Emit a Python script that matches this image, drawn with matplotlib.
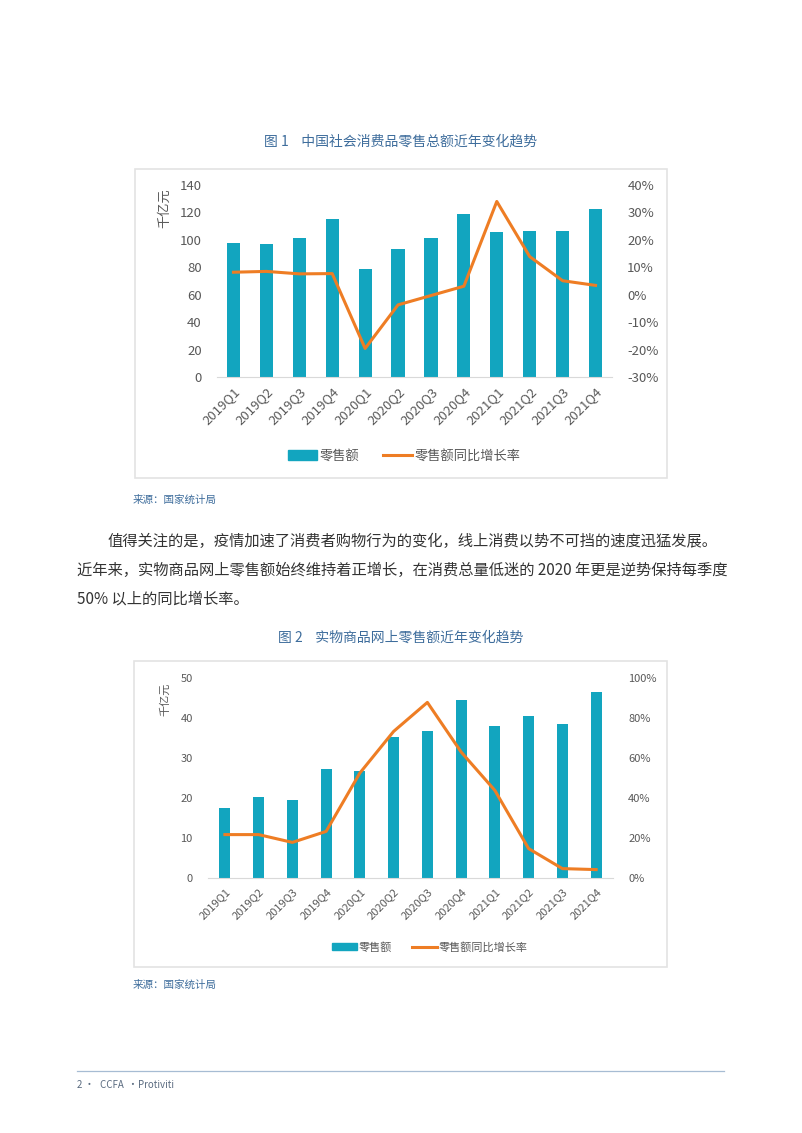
import matplotlib
matplotlib.use("Agg")
import matplotlib.pyplot as plt
from matplotlib.patches import Rectangle
from matplotlib.lines import Line2D
from matplotlib.ticker import FuncFormatter

plt.rcParams['font.family'] = ['Noto Sans CJK SC', 'DejaVu Sans']

# data
quarters = ['2019Q1', '2019Q2', '2019Q3', '2019Q4', '2020Q1', '2020Q2',
            '2020Q3', '2020Q4', '2021Q1', '2021Q2', '2021Q3', '2021Q4']

retail_total = [97.8, 97.3, 101.5, 115.0, 78.6, 93.4,
                101.0, 118.7, 105.6, 106.8, 106.3, 122.8]
retail_total_yoy = [8.2, 8.5, 7.6, 7.7, -19.6, -3.7,
                    -0.3, 3.1, 34.0, 13.9, 5.1, 3.4]

online_retail = [17.6, 20.2, 19.4, 27.3, 26.8, 35.3,
                 36.8, 44.4, 37.9, 40.6, 38.5, 46.5]
online_retail_yoy = [21.7, 21.7, 17.8, 23.3, 52.5, 73.3,
                     87.8, 63.0, 43.8, 14.7, 4.7, 4.2]

title1 = '图 1    中国社会消费品零售总额近年变化趋势'
title2 = '图 2    实物商品网上零售额近年变化趋势'
bar_label = '零售额'
line_label = '零售额同比增长率'
unit_label = '千亿元'
source = '来源：国家统计局'
paragraph = [
    '值得关注的是，疫情加速了消费者购物行为的变化，线上消费以势不可挡的速度迅猛发展。',
    '近年来，实物商品网上零售额始终维持着正增长，在消费总量低迷的 2020 年更是逆势保持每季度',
    '50% 以上的同比增长率。',
]

BAR = '#12a5bf'
LINE = '#ee7d24'
TICK = '#595959'
TITLE = '#3e6d9c'

W, H = 802, 1133
fig = plt.figure(figsize=(W / 100, H / 100), dpi=100)


def fx(x):
    return x / W


def fy(y):
    return 1 - y / H


def box(x0, y0, x1, y1):
    fig.patches.append(Rectangle((fx(x0), fy(y1)), fx(x1) - fx(x0), fy(y0) - fy(y1),
                                 transform=fig.transFigure, fill=False,
                                 edgecolor='#e3e3e3', linewidth=1.2))


def make_chart(left, right, top, bottom, bars, yoy, ymax, ystep, rmin, rmax, rstep,
               bar_w, fs, lw, unit_y, legend_y, legend_x):
    ax = fig.add_axes([fx(left), fy(bottom), fx(right) - fx(left), fy(top) - fy(bottom)])
    x = range(len(quarters))
    ax.bar(x, bars, width=bar_w, color=BAR, zorder=2)
    ax.set_xlim(-0.5, len(quarters) - 0.5)
    ax.set_ylim(0, ymax)
    ax.set_yticks(range(0, ymax + 1, ystep))
    ax.set_xticks(list(x))
    ax.set_xticklabels(quarters, rotation=45, ha='right', va='top', rotation_mode='anchor')
    for s in ['top', 'left', 'right']:
        ax.spines[s].set_visible(False)
    ax.spines['bottom'].set_color('#d9d9d9')
    ax.tick_params(length=0, labelsize=fs, colors=TICK)
    ax.tick_params(axis='y', pad=11)
    ax.tick_params(axis='x', pad=6)
    ax.patch.set_alpha(0)

    ax2 = ax.twinx()
    ax2.plot(x, yoy, color=LINE, linewidth=lw, zorder=3)
    ax2.set_ylim(rmin, rmax)
    ax2.set_yticks(range(rmin, rmax + 1, rstep))
    ax2.yaxis.set_major_formatter(FuncFormatter(lambda v, p: f'{v:.0f}%'))
    for s in ax2.spines.values():
        s.set_visible(False)
    ax2.tick_params(length=0, labelsize=fs, colors=TICK, pad=11)

    fig.text(fx(165), fy(unit_y), unit_label, rotation=90, ha='center', va='center',
             fontsize=fs, color=TICK)

    handles = [Rectangle((0, 0), 1, 1, color=BAR),
               Line2D([0], [0], color=LINE, linewidth=lw)]
    fig.legend(handles, [bar_label, line_label], loc='center', ncol=2, frameon=False,
               bbox_to_anchor=(fx(legend_x), fy(legend_y)), fontsize=fs,
               labelcolor=TICK, handlelength=2.2, handletextpad=0.2, columnspacing=1.8)
    return ax


# chart 1
fig.text(0.5, fy(142), title1, ha='center', va='center', fontsize=10,
         color=TITLE, fontweight='medium')
box(135, 169, 667, 478)
make_chart(217, 612, 185, 377, retail_total, retail_total_yoy, 140, 20, -30, 40, 10,
           0.4, 9.5, 2.2, 208, 456, 404)
fig.text(fx(133), fy(500), source, ha='left', va='center', fontsize=7.6,
         color=TITLE, style='italic')

# paragraph
for i, line in enumerate(paragraph):
    fig.text(fx(108 if i == 0 else 77), fy(541 + i * 29), line, ha='left', va='center',
             fontsize=11, color='#333333')

# chart 2
fig.text(0.5, fy(638), title2, ha='center', va='center', fontsize=10,
         color=TITLE, fontweight='medium')
box(134, 661, 667, 967)
make_chart(208, 613, 678, 878, online_retail, online_retail_yoy, 50, 10, 0, 100, 20,
           0.33, 8, 2.2, 699, 947, 430)
fig.text(fx(133), fy(985), source, ha='left', va='center', fontsize=7.6,
         color=TITLE, style='italic')

# footer
fig.add_artist(Line2D([fx(77), fx(724)], [fy(1071), fy(1071)], color='#a7bcd3',
                      linewidth=0.9, transform=fig.transFigure))
fig.text(fx(77), fy(1085), '2 ·', ha='left', va='center', fontsize=7, color='#5a6b80')
fig.text(fx(100), fy(1085), 'CCFA  ·', ha='left', va='center', fontsize=7, color='#5a6b80')
fig.text(fx(138), fy(1085), 'Protiviti', ha='left', va='center', fontsize=7,
         color='#5a6b80', style='italic')

fig.savefig('out.png', dpi=100, facecolor='white')
